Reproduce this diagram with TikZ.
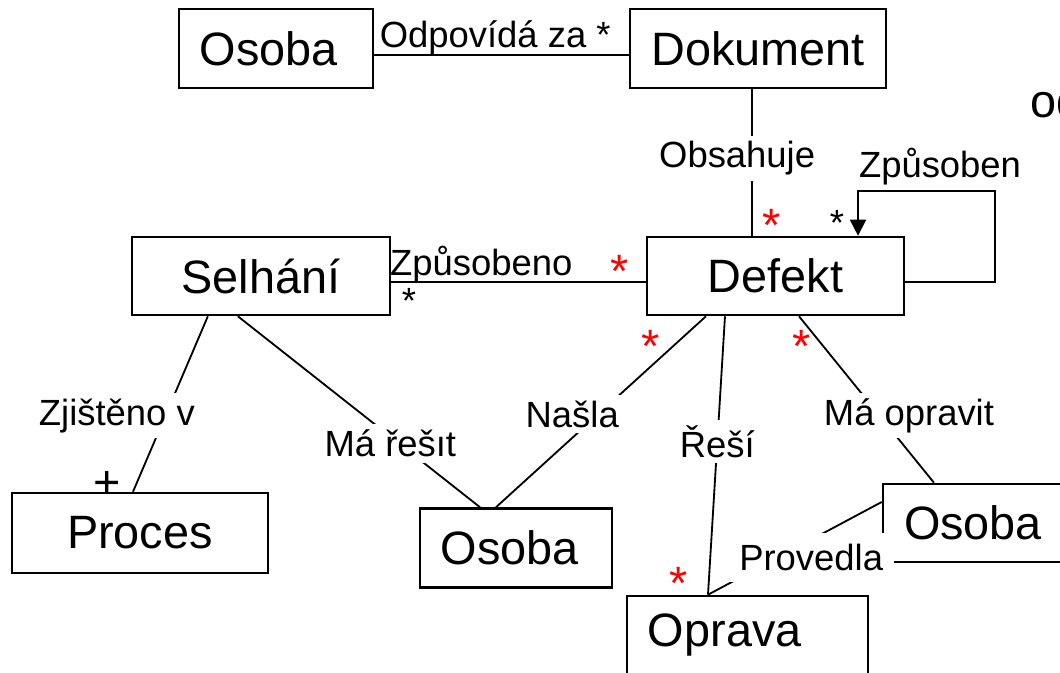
\documentclass[tikz,border=0pt]{standalone}
\usepackage{fontspec}
\setmainfont{Liberation Sans}
\usetikzlibrary{arrows.meta}
\newcommand{\boxfont}{\fontsize{33.3}{40}\selectfont}
\newcommand{\lblfont}{\fontsize{25.9}{31}\selectfont}

\begin{document}
\begin{tikzpicture}[x=0.025cm,y=-0.025cm,
  box/.style={draw,line width=1.8pt,inner sep=0pt,minimum height=1.95cm,font=\boxfont},
  lbl/.style={font=\lblfont,inner sep=4pt},
  cut/.style={fill=white},
  many/.style={font=\boxfont,text=red,inner sep=0pt},
  one/.style={font=\lblfont,inner sep=0pt}]
 % \draw[help lines] (0,0) grid (1060,672);
  \useasboundingbox (0,0) rectangle (1060,672);
  \node[box,minimum width=4.85cm,minimum height=1.975cm,text width=3.8cm,inner xsep=0.525cm,align=left] (os1) at (276,48.5) {Osoba};
  \node[box,minimum width=6.4cm,minimum height=1.975cm] (dok) [right of=os1,node distance=12.05cm] {Dokument};
  \node[box,minimum width=6.425cm] (def) at (775.5,276) {Defekt};
  \node[box,minimum width=6.45cm] (sel) [left of=def,node distance=12.8625cm] {Selhání};
  \node[box,minimum width=6.4cm,minimum height=2cm] (proc) at (140,533) {Proces};
  \node[box,minimum width=4.8cm,minimum height=1.975cm,text width=3.75cm,inner xsep=0.525cm,align=left] (os2) at (516,548) {Osoba};
  \node[box,minimum width=4.5cm] (os3) at (973,523) {Osoba};
  \node[box,minimum width=6.025cm,text width=4.975cm,inner xsep=0.525cm,align=left] (opr) at (747.5,635) {Oprava};
  \node[font=\boxfont,anchor=base west,inner sep=0pt] (od) at (1030,117) {od};

  \path[line width=1.3pt]
    ([yshift=-0.1625cm]os1.east) edge node[lbl,anchor=base,pos=0.475,yshift=0.2cm,inner sep=0pt] {Odpovídá za *} ([yshift=-0.1625cm]os1.east -| dok.west)
    ([xshift=-0.15cm]dok.south) edge node[lbl,cut,pos=0.47,xshift=-0.375cm] {Obsahuje} ([xshift=-0.15cm]dok.south |- def.north)
    ([yshift=-0.15cm]sel.east) edge node[lbl,anchor=base,pos=0.354,yshift=0.175cm,inner sep=0pt] {Způsobeno} ([yshift=-0.15cm]sel.east -| def.west)
    ([xshift=-1.325cm]sel.south) edge node[lbl,cut,pos=0.567,xshift=-1.2125cm] {Zjištěno v} ([xshift=-0.175cm]proc.north)
    ([xshift=-0.575cm]sel.south) edge node[lbl,cut,pos=0.667,xshift=-0.225cm] {Má řešıt} ([xshift=-0.9cm]os2.north)
    ([xshift=-1.7375cm]def.south) edge node[lbl,cut,pos=0.513,xshift=-0.65cm] {Našla} ([xshift=-0.5cm]os2.north)
    ([xshift=-1.2625cm]def.south) edge node[lbl,cut,pos=0.449] {Řeší} ([xshift=-0.9875cm]opr.north)
    ([xshift=0.5875cm]def.south) edge node[lbl,cut,pos=0.596,xshift=0.7375cm] {Má opravit} ([xshift=-0.975cm]os3.north)
    ([xshift=-0.9875cm]opr.north) edge node[lbl,cut,pos=0.594,yshift=-0.45cm,inner sep=8pt] {Provedla} ([yshift=0.525cm]os3.west);
  \draw[line width=1.3pt,-{Triangle[length=0.4cm,width=0.4cm]}] ([yshift=-0.15cm]def.east) -| ++(90,-91) -| ([xshift=2.0625cm]def.north);
  \node[lbl,anchor=base] (zpb) at (940,177) {Způsoben};

  \node[many] (m1) at (772,225) {*};
  \node[many] (m2) at (620,271) {*};
  \node[many] (m3) at (651,346) {*};
  \node[many] (m4) at (802,346) {*};
  \node[many] (m5) at (679,583) {*};
  \node[one] (m6) at (837,223) {*};
  \node[one] (m7) at (409,301) {*};
  \node[font=\boxfont,inner sep=0pt] (plus) at (107,485) {+};
 \end{tikzpicture}
\end{document}
